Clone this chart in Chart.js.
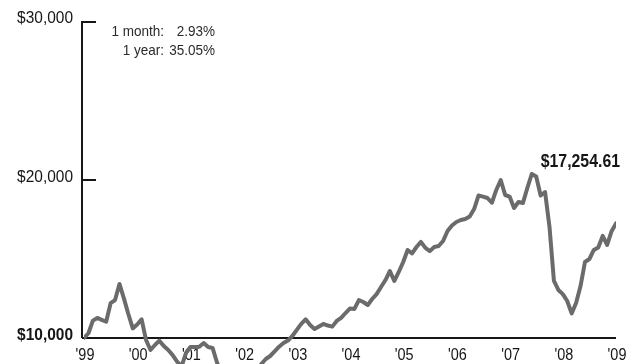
<!DOCTYPE html>
<html>
<head>
<meta charset="utf-8">
<script src="https://cdn.jsdelivr.net/npm/chart.js@4/dist/chart.umd.min.js"></script>
<style>
  html, body { margin: 0; padding: 0; background: #fff; }
  #Growth__Chart { display: block; }
</style>
</head>
<body>
<canvas id="Growth__Chart" width="638" height="364"></canvas>
<script>
/* growth of $10,000, one value per month, Jan '99 .. Jan '09 */
const values = [
  10000, 10300, 11100, 11270, 11150, 11030, 12200, 12400, 13420, 12510, 11520, 10610,
  10850, 11180, 9870, 9240, 9560, 9830, 9490, 9240, 8920, 8500, 8200, 9050,
  9430, 9430, 9450, 9680, 9430, 9370, 8450, 7800, 7500, 7100, 7400, 7700,
  7600, 7300, 7000, 7900, 8350, 8670, 8860, 9150, 9450, 9680, 9840, 10130,
  10510, 10890, 11180, 10820, 10570, 10730, 10890, 10790, 10720, 11080, 11270, 11580,
  11870, 11840, 12400, 12280, 12090, 12470, 12780, 13230, 13670, 14240, 13610, 14180,
  14810, 15570, 15360, 15760, 16080, 15700, 15500, 15760, 15820, 16140, 16770, 17120,
  17340, 17470, 17530, 17690, 18160, 19020, 18950, 18860, 18560, 19370, 20000, 19050,
  18950, 18230, 18610, 18540, 19490, 20380, 20220, 19020, 19240, 17030, 13610, 13040,
  12776, 12340, 11560, 12220, 13290, 14810, 15000, 15570, 15730, 16460, 15890, 16763,
  17254.61
];
/* x tick labels, one per January */
const yearLabels = ["'99", "'00", "'01", "'02", "'03", "'04", "'05", "'06", "'07", "'08", "'09"];
const yearMonths = [0, 12, 24, 36, 48, 60, 72, 84, 96, 108, 120];
/* y tick values and labels */
const yTicks = [10000, 20000, 30000];
const yTickLabels = ["$10,000", "$20,000", "$30,000"];
/* returns box */
const returnLabels = ["1 month:", "1 year:"];
const returnValues = ["2.93%", "35.05%"];
const endLabel = "$17,254.61";

const FONT = "'Liberation Sans', Arial, sans-serif";
const INK = "#161616";

/* draws text squeezed sideways, to get a condensed face */
function narrowText(ctx, text, x, y, font, align, squeeze) {
  ctx.save();
  ctx.font = font;
  ctx.textAlign = align;
  ctx.textBaseline = "alphabetic";
  ctx.translate(x, y);
  ctx.scale(squeeze, 1);
  ctx.fillText(text, 0, 0);
  ctx.restore();
}

/* axes, ticks and texts are drawn by hand from the scales */
const axisPlugin = {
  id: "axisPlugin",
  beforeDatasetsDraw(chart) {
    const ctx = chart.ctx;
    const x = chart.scales.x;
    const y = chart.scales.y;
    const left = x.getPixelForValue(0) - 2;
    const right = x.getPixelForValue(120);
    const yTop = y.getPixelForValue(30000);
    const yBase = y.getPixelForValue(10000);
    ctx.save();
    ctx.strokeStyle = INK;
    ctx.lineWidth = 2;
    /* vertical axis */
    ctx.beginPath();
    ctx.moveTo(left, yTop);
    ctx.lineTo(left, yBase);
    ctx.stroke();
    /* baseline at $10,000 */
    ctx.beginPath();
    ctx.moveTo(left, yBase);
    ctx.lineTo(right, yBase);
    ctx.stroke();
    /* short inner ticks */
    [20000, 30000].forEach(v => {
      const py = y.getPixelForValue(v);
      ctx.beginPath();
      ctx.moveTo(left - 1, py);
      ctx.lineTo(left + 14, py);
      ctx.stroke();
    });
    /* y labels */
    ctx.fillStyle = INK;
    yTicks.forEach((v, i) => {
      const f = (v == 10000 ? "bold 17px " : "17px ") + FONT;
      narrowText(ctx, yTickLabels[i], left - 9, y.getPixelForValue(v) + (v == 30000 ? 1 : 2), f, "right", 0.91);
    });
    /* x labels */
    yearLabels.forEach((t, i) => {
      narrowText(ctx, t, x.getPixelForValue(yearMonths[i]) + 1, yBase + 22, "17px " + FONT, "center", 0.85);
    });
    /* returns box */
    ctx.fillStyle = "#2a2a2a";
    returnLabels.forEach((t, i) => {
      const py = 36 + i * 19;
      narrowText(ctx, t, 164, py, "15px " + FONT, "right", 0.9);
      narrowText(ctx, returnValues[i], 215, py, "15px " + FONT, "right", 0.9);
    });
    /* ending value */
    ctx.fillStyle = INK;
    narrowText(ctx, endLabel, 620, 167, "bold 18px " + FONT, "right", 0.88);
    ctx.restore();
  }
};

const myChart = new Chart(document.getElementById("Growth__Chart"), {
  type: "line",
  plugins: [axisPlugin],
  data: {
    datasets: [{
      data: values.map((v, i) => ({ x: i, y: v })),
      borderColor: "#6b6b6b",
      borderWidth: 4,
      borderJoinStyle: "round",
      borderCapStyle: "round",
      pointRadius: 0,
      tension: 0,
      fill: false
    }]
  },
  options: {
    responsive: false,
    animation: false,
    layout: { padding: { left: 84, right: 22, top: 22, bottom: 0 } },
    plugins: { legend: { display: false }, tooltip: { enabled: false } },
    scales: {
      x: { type: "linear", min: 0, max: 120, display: false },
      y: { type: "linear", min: 8354, max: 30000, display: false }
    }
  }
});
</script>
</body>
</html>
